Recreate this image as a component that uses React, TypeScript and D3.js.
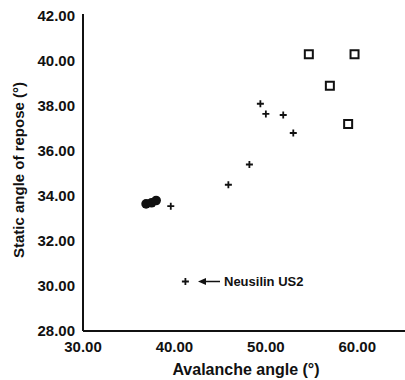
import React, { useEffect, useRef } from "react";
import * as d3 from "d3";

// avalanche angle (x) vs static angle of repose (y)
const plusX = [49.4, 50.0, 51.9, 53.0, 48.2, 45.9, 39.6, 41.2];
const plusY = [38.1, 37.65, 37.6, 36.8, 35.4, 34.5, 33.55, 30.2];
const squareX = [54.7, 59.7, 57.0, 59.0];
const squareY = [40.3, 40.3, 38.9, 37.2];
const circleX = [36.9, 37.5, 38.0];
const circleY = [33.65, 33.7, 33.8];
const xTicks = [30, 40, 50, 60];
const yTicks = [28, 30, 32, 34, 36, 38, 40, 42];

const W = 405;
const H = 380;

const App = () => {
  const ref = useRef<SVGSVGElement>(null);

  useEffect(() => {
    const svg = d3.select(ref.current);
    svg.selectAll("*").remove();

    const x = d3.scaleLinear().domain([30, 65]).range([83, 403]);
    const y = d3.scaleLinear().domain([28, 42]).range([331, 16]);
    const font = "'Liberation Sans', Arial, sans-serif";

    // axes lines
    svg.append("line")
      .attr("x1", x(30)).attr("x2", x(30))
      .attr("y1", y(42) - 2).attr("y2", y(28))
      .attr("stroke", "#111").attr("stroke-width", 2);
    svg.append("line")
      .attr("x1", x(30)).attr("x2", W)
      .attr("y1", y(28)).attr("y2", y(28))
      .attr("stroke", "#111").attr("stroke-width", 2);

    svg.selectAll(".ytick")
      .data(yTicks)
      .join("text")
      .attr("x", 75)
      .attr("y", (d) => y(d))
      .attr("dy", "0.36em")
      .attr("text-anchor", "end")
      .attr("font-family", font)
      .attr("font-weight", "bold")
      .attr("font-size", 15)
      .attr("fill", "#111")
      .text((d) => d.toFixed(2));

    svg.selectAll(".xtick")
      .data(xTicks)
      .join("text")
      .attr("x", (d) => x(d))
      .attr("y", 352)
      .attr("text-anchor", "middle")
      .attr("font-family", font)
      .attr("font-weight", "bold")
      .attr("font-size", 15)
      .attr("fill", "#111")
      .text((d) => d.toFixed(2));

    svg.append("text")
      .attr("x", 246)
      .attr("y", 375)
      .attr("text-anchor", "middle")
      .attr("font-family", font)
      .attr("font-weight", "bold")
      .attr("font-size", 16)
      .attr("fill", "#111")
      .text("Avalanche angle (°)");

    svg.append("text")
      .attr("transform", `translate(24,170) rotate(-90)`)
      .attr("text-anchor", "middle")
      .attr("font-family", font)
      .attr("font-weight", "bold")
      .attr("font-size", 15)
      .attr("fill", "#111")
      .text("Static angle of repose (°)");

    // markers
    svg.selectAll(".plus").data(d3.range(plusX.length)).join("path")
      .attr("d", (i) => {
        const cx = x(plusX[i]), cy = y(plusY[i]);
        return `M${cx - 3.5},${cy}H${cx + 3.5}M${cx},${cy - 3.5}V${cy + 3.5}`;
      })
      .attr("stroke", "#111").attr("stroke-width", 1.8).attr("fill", "none");

    svg.selectAll(".sq").data(d3.range(squareX.length)).join("rect")
      .attr("x", (i) => x(squareX[i]) - 4)
      .attr("y", (i) => y(squareY[i]) - 4)
      .attr("width", 8).attr("height", 8)
      .attr("fill", "white").attr("stroke", "#111").attr("stroke-width", 2);

    svg.selectAll(".circ").data(d3.range(circleX.length)).join("circle")
      .attr("cx", (i) => x(circleX[i]))
      .attr("cy", (i) => y(circleY[i]))
      .attr("r", 4.8)
      .attr("fill", "#111");

    // annotation
    const ay = y(30.2);
    svg.append("line")
      .attr("x1", 204).attr("x2", 220)
      .attr("y1", ay).attr("y2", ay)
      .attr("stroke", "#111").attr("stroke-width", 1.5);
    svg.append("path")
      .attr("d", `M198,${ay}L206,${ay - 3.5}L206,${ay + 3.5}Z`)
      .attr("fill", "#111");
    svg.append("text")
      .attr("x", 224)
      .attr("y", ay)
      .attr("dy", "0.36em")
      .attr("font-family", font)
      .attr("font-weight", "bold")
      .attr("font-size", 13)
      .attr("fill", "#111")
      .text("Neusilin US2");
  }, []);

  return (
    <svg
      ref={ref}
      width={W}
      height={H}
      style={{ position: "absolute", left: 0, top: 0, background: "white" }}
    />
  );
};

export default App;
